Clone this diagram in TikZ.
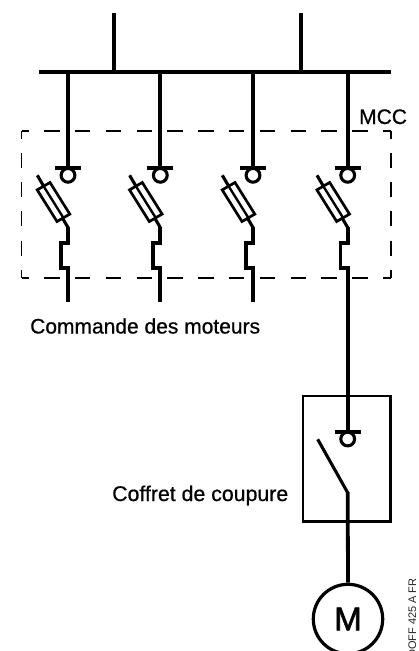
\documentclass[tikz,border=0pt]{standalone}
\usepackage{fontspec}
\setmainfont{Liberation Sans}
\newfontfamily\medfont[FakeBold=0.7]{Liberation Sans}
\newfontfamily\heavyfont[FakeBold=1.8]{Liberation Sans}
\tikzset{
  wire/.style={line width=3.8pt,line cap=butt,line join=miter},
  part/.style={line width=3.1pt},
  fusebody/.style={line width=2.7pt,line join=miter,fill=white},
  fusecore/.style={line width=2.4pt},
  lbl/.style={inner sep=0pt,font=\medfont\fontsize{21pt}{24pt}\selectfont,text=black},
  hdash/.style={line width=1.7pt,dash pattern=on 15.5pt off 15.3pt,dash phase=8.2pt},
  vdash/.style={line width=1.7pt,dash pattern=on 15pt off 14.3pt,dash phase=7.5pt}
}
\newcommand{\feeder}[1]{%
  \begin{scope}[shift={(#1,0)}]
    \draw[part] (-13,168)--(13,168);
    \draw[part] (0,175.3) circle (6.9);
    \draw[part] (-30.7,175.3)--(0,227.5);
    \draw[wire] (0,226.5)--(0,243)--(-7.3,243)--(-7.3,268)--(0,268)--(0,301.7);
    \draw[fusebody] (-30.8,189.9)--(-18.0,182.5)--(1.8,214.1)--(-11.0,221.5)--cycle;
    \draw[fusecore] (-24.4,186.2)--(-4.6,217.8);
  \end{scope}}
\begin{document}
\begin{tikzpicture}[x=1pt,y=-1pt]
\useasboundingbox (0,0) rectangle (419,651);
\clip (0,0) rectangle (419,651);
% bus
\coordinate (busL) at (39,72);
\coordinate (busR) at (391,72);
\draw[wire] (busL)--(busR);
\coordinate (in1) at (114,13);
\coordinate (in2) at (301,13);
\draw[wire] (in1)--(114,72);
\draw[wire] (in2)--(301,72);
% feeders
\foreach \x in {68,160.3,253,347.7}{\draw[wire] (\x,72)--(\x,168);\feeder{\x}}
% dashed MCC box
\draw[hdash] (21.5,131)--(391,131);
\draw[hdash] (21.5,278)--(391,278);
\draw[vdash] (21.5,131)--(21.5,278);
\draw[vdash] (391,131)--(391,278);
% switch box
\node[draw,line width=2.5pt,minimum width=87.3pt,minimum height=125.3pt,inner sep=0pt,anchor=north west] (sw) at (303.2-1.25,396.2-1.25) {};
\draw[wire] (347.7,300)--(347.7,432);
\draw[part] (334.7,432)--(360.7,432);
\draw[part] (347.7,439) circle (6.9);
\draw[part] (317.7,439.3)--(347.7,492.7);
% motor
\node[draw,circle,line width=3.2pt,minimum size=69.4pt,inner sep=0pt,font=\heavyfont\fontsize{33pt}{33pt}\selectfont] (motor) at (348,619) {M};
\draw[wire] (347.7,492)--(motor.north);
% labels
\node[lbl,anchor=base west] (mcc) at (359,124) {MCC};
\node[lbl,anchor=base west] (cmd) at (30,333.5) {Commande des moteurs};
\node[lbl,anchor=base west,font=\medfont\fontsize{21.3pt}{24pt}\selectfont] (cof) at (112,501) {Coffret de coupure};
\node[anchor=base west,rotate=90,inner sep=0pt,font=\fontsize{11pt}{12pt}\selectfont,text=black!85] (ref) at (416,658) {DOFF 425 A FR};
\end{tikzpicture}
\end{document}
